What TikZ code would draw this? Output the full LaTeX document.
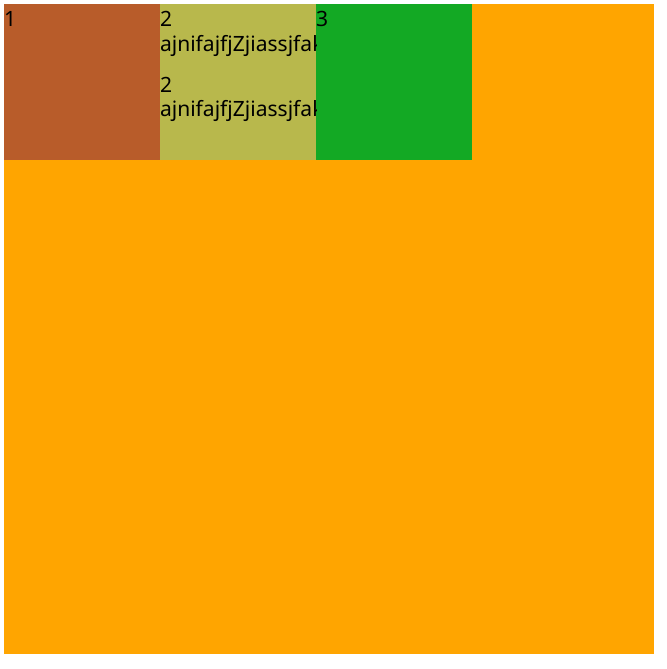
\documentclass[tikz,border=0pt]{standalone}
\usepackage{fontspec}
\setmainfont{Noto Sans}
\definecolor{bgorange}{RGB}{255,165,0}
\definecolor{boxbrown}{RGB}{184,92,42}
\definecolor{boxolive}{RGB}{184,184,76}
\definecolor{boxgreen}{RGB}{19,169,36}
\tikzset{
  lbl/.style={anchor=base west, inner sep=0pt, outer sep=0pt, font=\fontsize{15.8}{18}\selectfont, text=black},
}
\begin{document}
\begin{tikzpicture}[x=0.75pt,y=-0.75pt]
\useasboundingbox (0,0) rectangle (667,669);
\fill[white] (0,0) rectangle (667,669);
\fill[bgorange] (4,4) rectangle (654,654);
\fill[boxbrown] (4,4) rectangle (160,160);
\fill[boxolive] (160,4) rectangle (316,160);
\fill[boxgreen] (316,4) rectangle (472,160);
\begin{scope}
\clip (4,4) rectangle (160,160);
\node[lbl] (t1) at (4,26) {1};
\end{scope}
\begin{scope}
\clip (160,4) rectangle (316,160);
\node[lbl] (t2a) at (160,26) {2};
\node[lbl] (t2b) at (160,51) {ajnifajfjZjiassjfak};
\node[lbl] (t2c) at (160,92) {2};
\node[lbl] (t2d) at (160,116) {ajnifajfjZjiassjfak};
\end{scope}
\begin{scope}
\clip (316,4) rectangle (472,160);
\node[lbl] (t3) at (316,26) {3};
\end{scope}
\end{tikzpicture}
\end{document}
